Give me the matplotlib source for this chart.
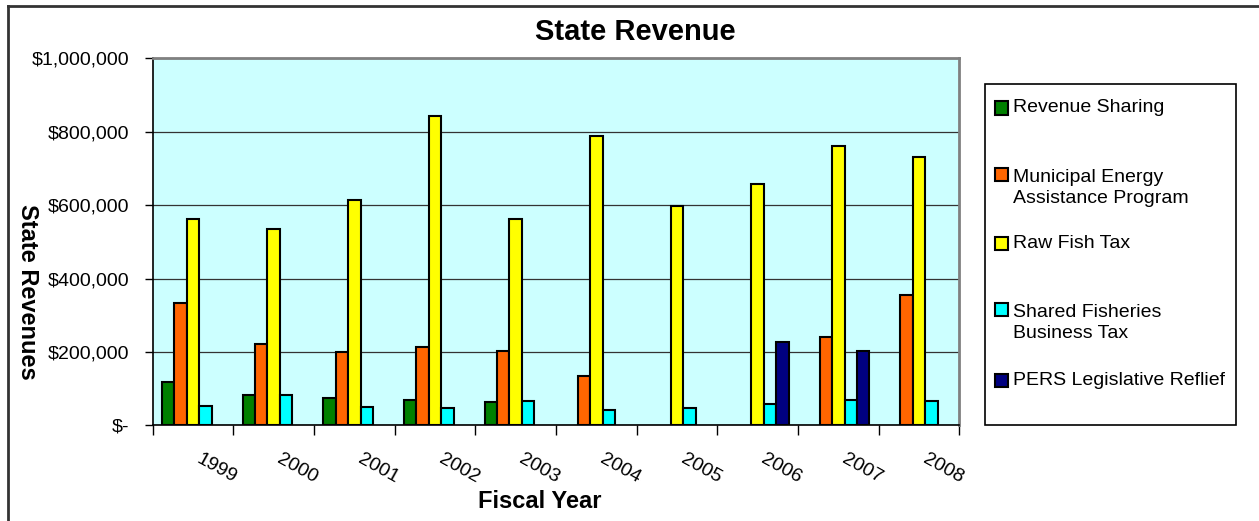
import numpy as np
import matplotlib
matplotlib.use("Agg")
import matplotlib.pyplot as plt
from matplotlib.patches import Rectangle
from matplotlib.lines import Line2D
from matplotlib.transforms import ScaledTranslation

plt.rcParams['font.family'] = ['Liberation Sans', 'DejaVu Sans']

# Fiscal years and revenue series (dollars)
years = ["1999", "2000", "2001", "2002", "2003", "2004", "2005", "2006", "2007", "2008"]
revenue_sharing = [118000, 82000, 74000, 69000, 64000, 0, 0, 0, 0, 0]
energy_assistance = [332000, 222000, 200000, 212000, 203000, 134000, 0, 0, 241000, 354000]
raw_fish_tax = [561000, 535000, 615000, 842000, 562000, 789000, 598000, 657000, 761000, 730000]
shared_fisheries = [53000, 83000, 51000, 48000, 66000, 42000, 47000, 57000, 69000, 65000]
pers_relief = [0, 0, 0, 0, 0, 0, 0, 228000, 203000, 0]

series_names = ["Revenue Sharing", "Municipal Energy\nAssistance Program", "Raw Fish Tax",
                "Shared Fisheries\nBusiness Tax", "PERS Legislative Reflief"]
series_colors = ["#008000", "#FF6600", "#FFFF00", "#00FFFF", "#000080"]
y_ticks = [0, 200000, 400000, 600000, 800000, 1000000]
y_tick_labels = ["$-", "$200,000", "$400,000", "$600,000", "$800,000", "$1,000,000"]

W, H = 1259, 521
fig = plt.figure(figsize=(W / 100, H / 100), dpi=100)


def fx(px):
    return px / W


def fy(py):
    return 1 - py / H


ax = fig.add_axes([fx(152.7), fy(425.3), fx(959.3) - fx(152.7), fy(58.3) - fy(425.3)])
ax.set_facecolor("#CCFFFF")

all_series = [revenue_sharing, energy_assistance, raw_fish_tax, shared_fisheries, pers_relief]
n = len(all_series)
bar_w = 1 / (n + 1.5)
x = np.arange(len(years)) + 0.5
for i, (vals, col) in enumerate(zip(all_series, series_colors)):
    offs = (i - (n - 1) / 2) * bar_w
    heights = np.array(vals, dtype=float)
    shown = heights > 0
    ax.bar((x + offs)[shown], heights[shown], width=bar_w, color=col,
           edgecolor="black", linewidth=1.5, zorder=3)

ax.set_xlim(0, len(years))
ax.set_ylim(0, 1000000)
ax.set_yticks(y_ticks)
ax.set_yticklabels(y_tick_labels, fontsize=14)
ax.yaxis.grid(True, color="#333333", linewidth=0.9, zorder=1)
ax.tick_params(axis="y", direction="out", length=6, width=1, pad=11)

# category boundary ticks, labels centred between them
ax.set_xticks(np.arange(len(years) + 1))
ax.set_xticklabels([])
ax.tick_params(axis="x", which="major", direction="out", length=7, width=1)
ax.set_xticks(x, minor=True)
ax.set_xticklabels(years, minor=True, fontsize=14, rotation=-29,
                   rotation_mode="anchor", ha="left", va="top")
ax.tick_params(axis="x", which="minor", length=0, pad=18)
shift = ScaledTranslation(9 / 100, 0, fig.dpi_scale_trans)
for lbl in ax.get_xticklabels(minor=True):
    lbl.set_transform(lbl.get_transform() + shift)

for s in ["left", "bottom"]:
    ax.spines[s].set_color("black")
    ax.spines[s].set_linewidth(1.2)
for s in ["top", "right"]:
    ax.spines[s].set_color("#808080")
    ax.spines[s].set_linewidth(2)

fig.text(fx(635), fy(32), "State Revenue", fontsize=21, fontweight="bold",
         ha="center", va="center")
fig.text(fx(540), fy(502), "Fiscal Year", fontsize=17, fontweight="bold",
         ha="center", va="center")
fig.text(fx(27), fy(292), "State Revenues", fontsize=17, fontweight="bold",
         ha="center", va="center", rotation=270)

# legend box
fig.patches.append(Rectangle((fx(985), fy(425)), fx(1236) - fx(985), fy(84) - fy(425),
                             transform=fig.transFigure, facecolor="white",
                             edgecolor="black", linewidth=1.2))
text_rows = [107, 177, 243, 312, 380]
marker_rows = [108, 174, 243, 309, 380]
for name, col, trow, mrow in zip(series_names, series_colors, text_rows, marker_rows):
    fig.patches.append(Rectangle((fx(995), fy(mrow + 6.5)), fx(13), fy(0) - fy(13),
                                 transform=fig.transFigure, facecolor=col,
                                 edgecolor="black", linewidth=1.5))
    fig.text(fx(1013), fy(trow - 8), name, fontsize=14, ha="left", va="top",
             linespacing=1.3)

# outer frame
fig.add_artist(Line2D([fx(7.5), fx(7.5)], [0, fy(6)], transform=fig.transFigure,
                      color="#333333", linewidth=2))
fig.add_artist(Line2D([fx(7.5), 1], [fy(6), fy(6)], transform=fig.transFigure,
                      color="#333333", linewidth=2))

fig.savefig("out.png", dpi=100)
